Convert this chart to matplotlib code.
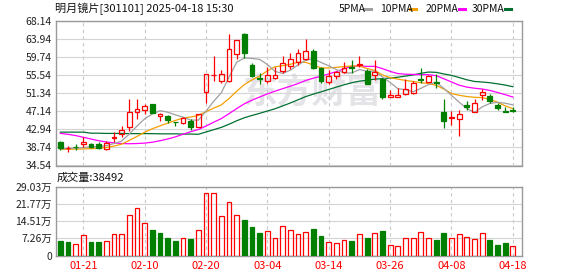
import matplotlib
matplotlib.use('Agg')
import matplotlib.pyplot as plt
from matplotlib.lines import Line2D
import numpy as np

plt.rcParams['font.family'] = ['Noto Sans CJK SC', 'DejaVu Sans']

title = "明月镜片[301101] 2025-04-18 15:30"
tick_idx = [3, 11, 19, 27, 35, 43, 51, 59]
tick_labels = ['01-21', '02-10', '02-20', '03-04', '03-14', '03-26', '04-08', '04-18']

opens = [39.89, 38.55, 38.85, 39.43, 39.50, 39.58, 38.34, 41.00, 41.90, 43.45,
         46.93, 47.40, 48.87, 46.00, 46.08, 44.70, 44.38, 45.00, 43.60, 51.58,
         55.50, 54.29, 54.29, 60.40, 65.12, 57.92, 54.80, 54.29, 54.83, 56.61,
         57.69, 58.54, 59.24, 61.25, 57.15, 53.90, 55.45, 56.22, 57.40, 58.00,
         56.53, 55.60, 54.60, 50.57, 50.57, 51.19, 51.35, 54.70, 54.05, 54.05,
         47.09, 45.60, 45.31, 48.64, 47.09, 51.03, 50.73, 48.71, 47.30, 47.50]
highs = [40.35, 39.10, 39.60, 41.13, 39.80, 39.89, 40.20, 42.29, 43.76, 50.03,
         50.03, 48.87, 48.95, 46.86, 46.31, 44.77, 45.85, 45.38, 46.63, 55.90,
         60.01, 56.76, 65.12, 63.73, 65.28, 58.31, 55.99, 57.54, 57.54, 60.01,
         60.63, 61.56, 63.96, 61.60, 57.54, 56.76, 56.61, 58.54, 59.08, 60.09,
         56.99, 59.08, 54.75, 52.12, 52.50, 54.60, 54.29, 57.15, 55.60, 55.84,
         50.03, 47.32, 47.47, 49.56, 49.95, 52.35, 51.19, 49.18, 48.10, 48.10]
lows = [38.03, 37.60, 38.20, 38.81, 38.50, 38.34, 38.03, 40.12, 41.13, 42.60,
        45.38, 46.55, 46.70, 45.00, 44.46, 43.76, 44.30, 42.83, 43.45, 49.00,
        54.21, 53.82, 54.05, 59.24, 59.47, 55.06, 53.51, 53.82, 54.67, 55.99,
        56.92, 57.92, 59.10, 56.92, 53.66, 53.51, 54.60, 55.99, 55.99, 57.54,
        53.40, 54.44, 50.10, 50.50, 50.50, 50.96, 51.19, 53.66, 53.90, 52.50,
        43.37, 43.99, 41.30, 47.47, 46.93, 49.80, 49.02, 47.47, 46.93, 47.00]
closes = [38.50, 38.60, 38.80, 39.89, 38.73, 38.57, 39.81, 41.20, 42.83, 46.93,
          47.71, 48.33, 46.86, 46.55, 45.23, 44.60, 45.69, 43.45, 46.47, 55.76,
          55.60, 55.76, 61.56, 63.65, 60.79, 55.37, 54.70, 55.60, 55.60, 58.47,
          59.24, 60.63, 61.25, 57.15, 54.21, 55.37, 56.22, 57.30, 57.20, 58.10,
          53.51, 56.22, 50.57, 50.88, 50.88, 52.27, 53.82, 54.50, 55.37, 53.66,
          45.00, 45.75, 46.47, 48.10, 49.02, 51.58, 49.64, 47.86, 47.00, 47.10]

ma5 = [38.40, 38.50, 38.60, 38.70, 38.89, 38.91, 39.15, 39.64, 40.23, 41.87,
       43.70, 45.40, 46.53, 47.28, 46.94, 46.31, 45.79, 45.10, 45.09, 47.19,
       49.47, 51.49, 55.11, 58.55, 59.55, 59.43, 59.21, 58.02, 56.41, 55.95,
       56.72, 57.91, 59.04, 59.35, 58.50, 57.72, 56.84, 56.05, 56.06, 56.84,
       56.47, 56.47, 55.12, 53.86, 52.41, 52.16, 51.68, 52.47, 53.37, 53.92,
       52.47, 50.86, 49.25, 47.80, 46.87, 48.18, 48.96, 49.24, 49.02, 48.64]
ma10 = [38.30, 38.30, 38.35, 38.40, 38.45, 38.55, 38.75, 39.05, 39.50, 40.38,
        41.30, 42.28, 43.09, 43.75, 44.40, 45.01, 45.59, 45.82, 46.18, 47.07,
        47.89, 48.64, 50.11, 51.82, 53.37, 54.45, 55.35, 56.57, 57.48, 57.75,
        58.07, 58.56, 58.53, 57.88, 57.22, 57.22, 57.37, 57.54, 57.70, 57.67,
        57.09, 56.65, 55.59, 54.96, 54.63, 54.32, 54.08, 53.80, 53.61, 53.17,
        52.32, 51.27, 50.86, 50.58, 50.40, 50.33, 49.91, 49.25, 48.41, 47.75]
ma20 = [42.00, 41.80, 41.50, 41.10, 40.70, 40.30, 40.00, 39.80, 39.65, 39.60,
        39.65, 39.75, 39.95, 40.30, 40.70, 41.20, 41.80, 42.40, 42.90, 43.72,
        44.60, 45.46, 46.60, 47.78, 48.89, 49.73, 50.47, 51.19, 51.83, 52.41,
        52.98, 53.60, 54.32, 54.85, 55.30, 55.84, 56.36, 57.06, 57.59, 57.71,
        57.58, 57.61, 57.06, 56.42, 55.92, 55.77, 55.72, 55.67, 55.66, 55.42,
        54.71, 53.96, 53.22, 52.77, 52.51, 52.32, 51.99, 51.52, 51.01, 50.46]
ma30 = [42.30, 42.30, 42.30, 42.30, 42.05, 42.05, 42.00, 42.00, 42.00, 41.95,
        41.95, 41.95, 41.95, 41.90, 41.90, 41.90, 41.85, 41.85, 41.80, 42.34,
        42.87, 43.41, 44.14, 44.94, 45.65, 46.18, 46.68, 47.21, 47.74, 48.40,
        49.09, 49.82, 50.57, 51.15, 51.67, 52.23, 52.77, 53.31, 53.79, 54.16,
        54.35, 54.62, 54.74, 54.89, 55.07, 55.33, 55.60, 55.97, 56.27, 56.20,
        55.83, 55.49, 54.99, 54.47, 54.08, 53.95, 53.79, 53.53, 53.24, 52.86]

volumes = [5.97, 5.55, 5.00, 8.74, 5.55, 5.55, 6.25, 9.16, 9.16, 17.07,
           19.99, 13.74, 10.83, 9.58, 7.50, 5.97, 7.50, 7.08, 10.83, 26.50,
           26.10, 16.80, 22.50, 17.07, 15.00, 12.20, 9.58, 10.40, 7.50, 12.50,
           10.83, 9.16, 10.00, 11.24, 8.05, 5.83, 5.41, 6.66, 5.97, 9.16,
           7.22, 9.58, 10.13, 4.58, 4.16, 7.50, 7.50, 10.00, 7.50, 6.66,
           9.30, 7.50, 9.16, 7.91, 7.08, 9.58, 6.66, 4.30, 5.14, 3.8492]
vol_up = [0, 0, 1, 1, 0, 0, 1, 1, 1, 1,
          1, 1, 0, 0, 0, 0, 1, 0, 1, 1,
          1, 1, 1, 1, 0, 0, 0, 1, 1, 1,
          1, 1, 1, 0, 0, 1, 1, 1, 0, 1,
          0, 1, 0, 1, 1, 1, 1, 1, 1, 0,
          0, 1, 1, 1, 1, 1, 0, 0, 0, 1]
last_volume = 38492

price_ticks = [34.54, 38.74, 42.94, 47.14, 51.34, 55.54, 59.74, 63.94, 68.14]
vol_ticks = [0, 7.26, 14.51, 21.77, 29.03]
vol_tick_labels = ['0', '7.26万', '14.51万', '21.77万', '29.03万']

ma_names = ['5PMA', '10PMA', '20PMA', '30PMA']
ma_colors = ['#a0a0a0', '#f5a000', '#ff00ff', '#007030']

RED = '#ff0000'
GREEN = '#007f00'
GRID = '#d4d4d4'
VGRID = '#c8c8c8'
SPINE = '#999999'

W, H = 578, 276
fig = plt.figure(figsize=(W / 100, H / 100), dpi=100)
fig.patch.set_facecolor('white')

def fx(px):
    return px / W

def fy(py):
    return 1 - py / H

axp = fig.add_axes([fx(56), fy(165.5), fx(522.3) - fx(56), fy(21) - fy(165.5)])
axv = fig.add_axes([fx(56), fy(255.5), fx(522.3) - fx(56), fy(186.5) - fy(255.5)])

x = np.arange(len(closes))
o = np.array(opens)
c = np.array(closes)
h = np.array(highs)
l = np.array(lows)
up = c >= o
btm = np.minimum(o, c)
top = np.maximum(o, c)
hgt = np.maximum(top - btm, 0.03)
cols = np.where(up, RED, GREEN)

# watermark
axp.text(0.55, 0.51, '东方财富', transform=axp.transAxes, fontsize=25, fontweight='bold',
         color='#e4e4e8', ha='center', va='center', zorder=0)

# MA lines
for vals, col in zip([ma30, ma20, ma10, ma5], [ma_colors[3], ma_colors[2], ma_colors[1], ma_colors[0]]):
    axp.plot(x, vals, color=col, lw=0.9, zorder=2)

# candles
axp.vlines(x, top, h, colors=cols, lw=0.9, zorder=3)
axp.vlines(x, l, btm, colors=cols, lw=0.9, zorder=3)
axp.bar(x[up], hgt[up], 0.62, bottom=btm[up], facecolor='none', edgecolor=RED, lw=0.9, zorder=4)
axp.bar(x[~up], hgt[~up], 0.62, bottom=btm[~up], facecolor=GREEN, edgecolor=GREEN, lw=0.9, zorder=4)

xlim = (-0.56, 60.23)
for ax in (axp, axv):
    ax.set_xlim(*xlim)
    ax.set_xticks(tick_idx)
    ax.xaxis.grid(True, color=VGRID, lw=0.8, ls=(0, (3, 3)))
    ax.yaxis.grid(True, color=GRID, lw=0.8)
    ax.set_axisbelow(True)
    for s in ax.spines.values():
        s.set_color(SPINE)
        s.set_linewidth(1.0)
    ax.tick_params(length=0, labelsize=7.5, labelcolor='#222222', pad=3)

axp.set_ylim(34.54, 68.14)
axp.set_yticks(price_ticks)
axp.set_yticklabels([f'{t:.2f}' for t in price_ticks])
axp.set_xticklabels([])

# volume
vx = np.array(x)
vu = np.array(vol_up) == 1
vv = np.array(volumes)
axv.bar(vx[vu], vv[vu], 0.62, facecolor='none', edgecolor=RED, lw=0.9, zorder=3)
axv.bar(vx[~vu], vv[~vu], 0.62, facecolor=GREEN, edgecolor=GREEN, lw=0.9, zorder=3)
axv.set_ylim(0, 29.03)
axv.set_yticks(vol_ticks)
axv.set_yticklabels(vol_tick_labels)
axv.set_xticklabels(tick_labels, fontsize=8, color=RED)
axv.tick_params(axis='x', pad=4)

# texts
fig.text(fx(55), fy(8.5), title, fontsize=8, va='center', ha='left', color='#111111')
fig.text(fx(57), fy(178), f'成交量:{last_volume}', fontsize=8, va='center', ha='left', color='#111111')

# legend
leg_pos = [(338.5, 364.5), (380, 410), (425.5, 459), (472, 505)]
for (tx, lx), name, col in zip(leg_pos, ma_names, ma_colors):
    fig.text(fx(tx), fy(9), name, fontsize=7.5, va='center', ha='left', color='#111111')
    fig.add_artist(Line2D([fx(lx), fx(lx + 6)], [fy(9), fy(9)], color=col, lw=2.2,
                          transform=fig.transFigure))

fig.savefig('out.png', dpi=100)
